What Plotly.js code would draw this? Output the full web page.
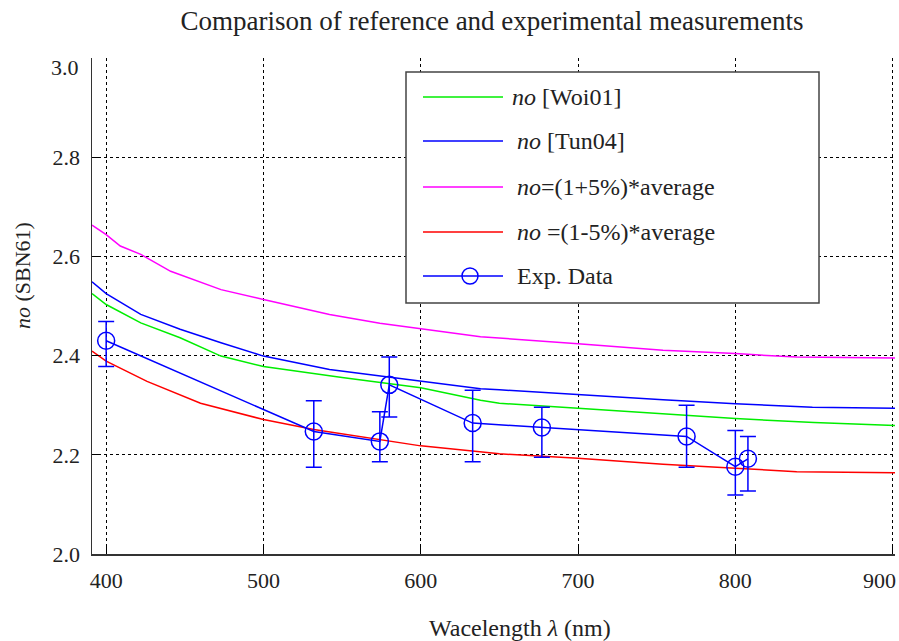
<!DOCTYPE html>
<html>
<head>
<meta charset="utf-8">
<script src="https://cdn.plot.ly/plotly-3.0.1.min.js"></script>
<style>html,body{margin:0;padding:0;background:#fff;}#chart{width:899px;height:641px;}</style>
</head>
<body>
<div id="chart"></div>
<script>
// ---- data ----
const woiX = [391, 400, 422, 447, 473, 500, 550, 600, 638, 650, 700, 750, 800, 850, 901.5];
const woiY = [2.525, 2.503, 2.466, 2.436, 2.399, 2.378, 2.356, 2.335, 2.310, 2.304, 2.294, 2.283, 2.273, 2.265, 2.259];

const tunX = [391, 400, 422, 447, 473, 500, 542, 600, 638, 650, 700, 754, 800, 849, 901.5];
const tunY = [2.549, 2.525, 2.483, 2.453, 2.426, 2.399, 2.372, 2.348, 2.333, 2.331, 2.321, 2.311, 2.303, 2.296, 2.294];

const plusX = [391, 400, 409, 422, 441, 473, 500, 542, 574, 600, 638, 700, 754, 800, 839, 901.5];
const plusY = [2.663, 2.644, 2.621, 2.604, 2.570, 2.533, 2.513, 2.483, 2.465, 2.454, 2.438, 2.424, 2.411, 2.404, 2.397, 2.395];

const minusX = [391, 400, 426, 460, 500, 532, 600, 638, 650, 700, 754, 800, 839, 901.5];
const minusY = [2.409, 2.389, 2.348, 2.304, 2.271, 2.251, 2.218, 2.205, 2.202, 2.193, 2.181, 2.173, 2.166, 2.164];

const expX = [400, 532, 574, 580, 633, 677, 769, 800, 808];
const expY = [2.430, 2.247, 2.227, 2.341, 2.264, 2.255, 2.237, 2.176, 2.192];
const expErrPlus  = [0.039, 0.062, 0.060, 0.056, 0.066, 0.041, 0.063, 0.073, 0.045];
const expErrMinus = [0.052, 0.072, 0.041, 0.065, 0.078, 0.060, 0.062, 0.057, 0.065];

const xTicks = [400, 500, 600, 700, 800, 900];
const xTickText = ['400', '500', '600', '700', '800', ''];
const lastXTickText = '900';
const yTicks = [2.0, 2.2, 2.4, 2.6, 2.8, 3.0];
const yTickText = ['2.0', '2.2', '2.4', '2.6', '2.8', ''];
const lastYTickText = '3.0';

const seriesNames = ['<i>no</i> [Woi01]', '<i>no</i> [Tun04]', '<i>no</i>=(1+5%)*average', '<i>no</i> =(1-5%)*average', 'Exp. Data'];
const seriesColors = ['#00ee00', '#0000ff', '#ff00ff', '#ff0000', '#0000ff'];

const titleText = 'Comparison of reference and experimental measurements';
const xTitle = 'Wacelength <i>λ</i> (nm)';
const yTitle = '<i>no</i> (SBN61)';

// ---- layout geometry ----
const W = 899, H = 641;
const PL = 92, PR = 895, PT = 58, PB = 554;
function px(x) { return (x - PL) / (PR - PL); }
function py(y) { return (PB - y) / (PB - PT); }
const FONT = '"Liberation Serif", "DejaVu Serif", serif';

const traces = [
  {x: woiX, y: woiY, mode: 'lines', name: seriesNames[0], line: {color: seriesColors[0], width: 1.5}},
  {x: tunX, y: tunY, mode: 'lines', name: seriesNames[1], line: {color: seriesColors[1], width: 1.5}},
  {x: plusX, y: plusY, mode: 'lines', name: seriesNames[2], line: {color: seriesColors[2], width: 1.5}},
  {x: minusX, y: minusY, mode: 'lines', name: seriesNames[3], line: {color: seriesColors[3], width: 1.5}},
  {x: expX, y: expY, mode: 'lines+markers', name: seriesNames[4],
   line: {color: seriesColors[4], width: 1.5},
   marker: {symbol: 'circle-open', size: 17, color: seriesColors[4], line: {width: 1.5, color: seriesColors[4]}},
   error_y: {type: 'data', symmetric: false, array: expErrPlus, arrayminus: expErrMinus,
             color: seriesColors[4], thickness: 1.5, width: 8}}
];

// hand-placed legend box matching reference
const legendRows = [97, 141, 187, 232, 276];
const legendTextX = [510, 515, 515, 515, 515];
const shapes = [
  {type: 'rect', xref: 'paper', yref: 'paper', x0: px(406), x1: px(819), y0: py(303), y1: py(72),
   line: {color: '#444', width: 1.5}, fillcolor: '#fff', layer: 'above'}
];
const annotations = [];
legendRows.forEach((ry, i) => {
  shapes.push({type: 'line', xref: 'paper', yref: 'paper', x0: px(423), x1: px(503), y0: py(ry), y1: py(ry),
               line: {color: seriesColors[i], width: 1.5}, layer: 'above'});
  annotations.push({xref: 'paper', yref: 'paper', x: px(legendTextX[i]), y: py(ry), xanchor: 'left', yanchor: 'middle',
                    text: seriesNames[i], showarrow: false, font: {family: FONT, size: 24, color: '#222'}});
});
shapes.push({type: 'circle', xref: 'paper', yref: 'paper', x0: px(462), x1: px(478), y0: py(284), y1: py(268),
             line: {color: seriesColors[4], width: 1.5}, fillcolor: 'rgba(0,0,0,0)', layer: 'above'});

annotations.push({xref: 'paper', yref: 'paper', x: px(520), y: py(628), xanchor: 'center', yanchor: 'middle',
                  text: xTitle, showarrow: false, font: {family: FONT, size: 24, color: '#222'}});
annotations.push({xref: 'paper', yref: 'paper', x: px(22), y: py(276), xanchor: 'center', yanchor: 'middle',
                  text: yTitle, textangle: -90, showarrow: false, font: {family: FONT, size: 22, color: '#222'}});
annotations.push({xref: 'paper', yref: 'paper', x: px(898), y: py(580), xanchor: 'right', yanchor: 'middle',
                  text: lastXTickText, showarrow: false, font: {family: FONT, size: 22, color: '#222'}});
annotations.push({xref: 'paper', yref: 'paper', x: px(81), y: py(68), xanchor: 'right', yanchor: 'middle',
                  text: lastYTickText, showarrow: false, font: {family: FONT, size: 22, color: '#222'}});

const axisCommon = {
  showgrid: true, gridcolor: '#000', gridwidth: 1, griddash: '3px,3px',
  showline: true, linecolor: '#333', linewidth: 1.5, mirror: false,
  ticks: 'inside', ticklen: 7, tickcolor: '#000', tickwidth: 1,
  zeroline: false, tickfont: {family: FONT, size: 22, color: '#222'}
};

const layout = {
  width: W, height: H,
  margin: {l: PL, r: W - PR, t: PT, b: H - PB, pad: 0},
  paper_bgcolor: '#fff', plot_bgcolor: '#fff',
  showlegend: false,
  font: {family: FONT},
  title: {text: titleText, x: 492 / W, xref: 'container', xanchor: 'center',
          y: 1 - 21 / H, yref: 'container', yanchor: 'middle',
          font: {family: FONT, size: 27, color: '#222'}},
  xaxis: Object.assign({}, axisCommon, {range: [391, 901.5], tickmode: 'array', tickvals: xTicks, ticktext: xTickText,
          ticklabelstandoff: 6}),
  yaxis: Object.assign({}, axisCommon, {range: [2.0, 3.0], tickmode: 'array', tickvals: yTicks, ticktext: yTickText,
          ticklabelstandoff: 6}),
  shapes: shapes,
  annotations: annotations
};

Plotly.newPlot('chart', traces, layout, {displayModeBar: false, staticPlot: true});
</script>
</body>
</html>
